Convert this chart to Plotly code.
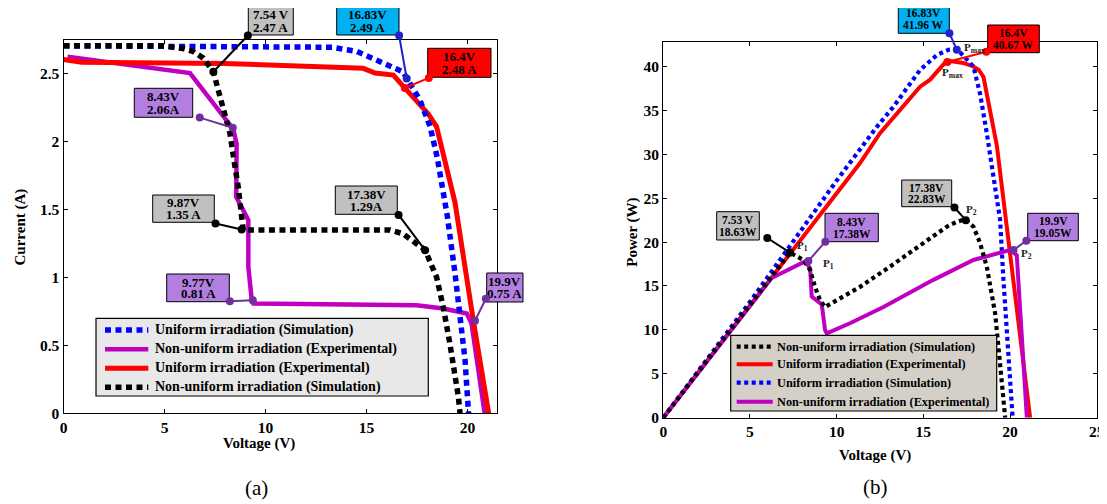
import plotly.graph_objects as go

# page body has an 8px margin; the figure is sized so that it fills the 1107x504 window
OX, OY = 8, 8
W, H = 1107 - OX, 504 - OY

# ---------------- (a) I-V curves ----------------
a_uni_sim_v = [0, 5, 10, 13.3, 14.5, 15.8, 16.8, 17.65, 18.15, 18.5, 18.7, 19.0, 19.38, 19.63, 19.88, 20.05]
a_uni_sim_i = [2.70, 2.70, 2.70, 2.69, 2.66, 2.58, 2.51, 2.30, 2.105, 1.88, 1.70, 1.45, 1.03, 0.735, 0.39, 0.0]

a_uni_exp_v = [0, 0.9, 8, 14.84, 15.42, 16.33, 16.9, 18.06, 18.47, 19.0, 19.38, 20.29, 21.05]
a_uni_exp_i = [2.60, 2.58, 2.57, 2.535, 2.50, 2.485, 2.39, 2.20, 2.105, 1.78, 1.55, 0.68, 0.0]

a_nu_sim_v = [0, 4.9, 5.93, 6.4, 6.92, 7.42, 7.66, 7.91, 8.24, 8.49, 8.65, 8.82, 8.9, 9.07, 16.16, 16.8,
              17.3, 17.9, 18.47, 18.8, 19.13, 19.38, 19.55, 19.63]
a_nu_sim_i = [2.70, 2.70, 2.68, 2.66, 2.61, 2.51, 2.375, 2.23, 2.057, 1.81, 1.664, 1.443, 1.346, 1.346, 1.346,
              1.32, 1.26, 1.20, 1.00, 0.78, 0.51, 0.29, 0.12, 0.0]

a_nu_exp_v = [0.2, 6.26, 8.40, 8.57, 8.55, 9.15, 9.15, 9.32, 9.40, 17.48, 18.8, 19.96, 20.2, 20.85]
a_nu_exp_i = [2.62, 2.50, 2.09, 1.98, 1.59, 1.42, 1.076, 0.83, 0.807, 0.794, 0.77, 0.733, 0.66, 0.0]

# ---------------- (b) P-V curves ----------------
b_uni_sim_v = [0, 5, 10, 12.31, 13.27, 14.81, 15.78, 16.45, 16.85, 17.12, 17.89, 18.27, 18.66, 19.04, 19.43,
               19.62, 19.85, 20.15]
b_uni_sim_p = [0, 13.2, 27.0, 33.1, 35.4, 39.6, 41.3, 41.9, 41.96, 41.6, 40.0, 36.9, 32.4, 27.4, 22.5,
               15.7, 8.1, 0]

b_uni_exp_v = [0, 6.3, 11.35, 12.5, 14.81, 15.39, 16.35, 17.3, 17.89, 18.2, 18.47, 19.24, 21.16]
b_uni_exp_p = [0, 16.2, 29.0, 32.4, 37.7, 38.5, 40.67, 40.4, 40.0, 39.6, 38.8, 31.0, 0]

b_nu_sim_v = [0, 7.31, 8.08, 8.47, 8.75, 9.04, 9.33, 9.62, 11.35, 13.07, 14.81, 16.35, 16.93, 17.41, 17.89,
              18.27, 18.66, 19.14, 19.33, 19.52, 19.72]
b_nu_sim_p = [0, 18.8, 17.96, 16.8, 14.9, 13.4, 12.6, 12.95, 14.9, 17.2, 19.67, 21.75, 22.3, 22.6, 21.75,
              19.9, 17.2, 11.9, 8.1, 4.3, 0]

b_nu_exp_v = [0, 6.25, 8.18, 8.47, 8.56, 9.14, 9.33, 9.43, 10.77, 12.7, 15.58, 17.89, 20.0, 20.39, 20.97]
b_nu_exp_p = [0, 15.9, 17.8, 17.0, 13.8, 12.9, 10.0, 9.6, 10.75, 12.6, 15.7, 17.96, 19.1, 18.5, 0]

# legend names
name_us = "Uniform irradiation (Simulation)"
name_ue = "Uniform irradiation (Experimental)"
name_ns = "Non-uniform irradiation (Simulation)"
name_ne = "Non-uniform irradiation (Experimental)"
a_legend_order = [name_us, name_ne, name_ue, name_ns]
b_legend_order = [name_ns, name_ue, name_us, name_ne]

# axis ticks
a_xticks = [0, 5, 10, 15, 20]
a_yticks = [0, 0.5, 1, 1.5, 2, 2.5]
b_xticks = [0, 5, 10, 15, 20, 25]
b_yticks = [0, 5, 10, 15, 20, 25, 30, 35, 40]

# ---------------- data tips ----------------
a_tip_line1 = ["7.54 V", "16.83V", "16.4V", "8.43V", "9.87V", "17.38V", "9.77V", "19.9V"]
a_tip_line2 = ["2.47 A", "2.49 A", "2.48 A", "2.06A", "1.35 A", "1.29A", "0.81 A", "0.75 A"]
a_tip_head_v = [7.42, 16.99, 16.90, 8.38, 8.82, 17.90, 9.37, 20.37]
a_tip_head_i = [2.51, 2.46, 2.39, 2.098, 1.351, 1.199, 0.831, 0.68]
a_tip_tail_v = [9.15, 16.61, 18.11, 6.72, 7.50, 16.57, 8.21, 20.92]
a_tip_tail_i = [2.78, 2.78, 2.466, 2.174, 1.395, 1.461, 0.824, 0.845]

b_tip_line1 = ["7.53 V", "8.43V", "17.38V", "19.9V", "16.83V", "16.4V"]
b_tip_line2 = ["18.63W", "17.38W", "22.83W", "19.05W", "41.96 W", "40.67 W"]
b_tip_head_v = [7.31, 8.37, 17.45, 20.20, 16.93, 16.39]
b_tip_head_p = [18.8, 17.85, 22.5, 19.1, 41.9, 40.5]
b_tip_tail_v = [5.97, 9.37, 16.77, 20.97, 16.49, 18.66]
b_tip_tail_p = [20.5, 20.1, 24.0, 20.2, 43.85, 41.7]

# point labels in (b)
b_plabel_text = ["P<sub>1</sub>", "P<sub>1</sub>", "P<sub>2</sub>", "P<sub>2</sub>", "P<sub>max</sub>", "P<sub>max</sub>"]
b_plabel_v = [8.05, 9.55, 17.75, 20.95, 17.95, 16.7]
b_plabel_p = [19.6, 17.5, 23.7, 18.7, 42.05, 39.3]

# ---------------- styling ----------------
BLUE = "#0000ff"
RED = "#ff0000"
MAG = "#c000c0"
BLACK = "#000000"
PURPLE_BOX = "#b27fe0"
PURPLE_LINE = "#7030a0"
GRAY_BOX = "#c0c0c0"
CYAN_BOX = "#00b0f0"
FONT = "Liberation Serif"

a_style = {name_ne: dict(color=MAG, width=4.5),
           name_ue: dict(color=RED, width=5),
           name_us: dict(color=BLUE, width=5.5, dash="6px,4.5px"),
           name_ns: dict(color=BLACK, width=5.5, dash="6px,4.5px")}
b_style = {name_ue: dict(color=RED, width=4),
           name_us: dict(color=BLUE, width=4.2, dash="4px,3.5px"),
           name_ne: dict(color=MAG, width=4),
           name_ns: dict(color=BLACK, width=4.2, dash="4px,3.5px")}


def pxx(x):
    return (x - OX) / W


def pyy(y):
    return 1 - (y - OY) / H


fig = go.Figure()

# (a) traces (drawing order)
for nm, xs, ys in ((name_ne, a_nu_exp_v, a_nu_exp_i), (name_ue, a_uni_exp_v, a_uni_exp_i),
                   (name_us, a_uni_sim_v, a_uni_sim_i), (name_ns, a_nu_sim_v, a_nu_sim_i)):
    fig.add_trace(go.Scatter(x=xs, y=ys, mode="lines", name=nm, showlegend=False,
                             line=a_style[nm], xaxis="x", yaxis="y"))

# (b) traces
for nm, xs, ys in ((name_ue, b_uni_exp_v, b_uni_exp_p), (name_us, b_uni_sim_v, b_uni_sim_p),
                   (name_ne, b_nu_exp_v, b_nu_exp_p), (name_ns, b_nu_sim_v, b_nu_sim_p)):
    fig.add_trace(go.Scatter(x=xs, y=ys, mode="lines", name=nm, showlegend=False,
                             line=b_style[nm], xaxis="x2", yaxis="y2"))

axis_common = dict(showline=True, linecolor="black", linewidth=1.3, mirror="ticks", ticks="inside",
                   ticklen=4, tickwidth=1, tickcolor="black", showgrid=False, zeroline=False,
                   automargin=False,
                   tickfont=dict(family=FONT, size=15.5, color="black", weight="bold"))

fig.update_layout(
    width=W, height=H, margin=dict(l=0, r=0, t=0, b=0, autoexpand=False),
    paper_bgcolor="white", plot_bgcolor="white", showlegend=False,
    font=dict(family=FONT, size=15, color="black"),
    xaxis=dict(domain=[pxx(63.5), pxx(497)], range=[0, 21.46], tickvals=a_xticks, anchor="y", **axis_common),
    yaxis=dict(domain=[pyy(413.3), pyy(40)], range=[0, 2.743], tickvals=a_yticks, anchor="x", **axis_common),
    xaxis2=dict(domain=[pxx(663.3), pxx(1096.7)], range=[0, 25], tickvals=b_xticks, anchor="y2", **axis_common),
    yaxis2=dict(domain=[pyy(417.7), pyy(41.7)], range=[0, 42.82], tickvals=b_yticks, anchor="x2", **axis_common),
)

annotations = []
shapes = []


# ---------------- legends (drawn as boxes, sample lines and text) ----------------
def add_legend(names, styles, box, rows, sym_x0, sym_x1, text_x, fill, fsize):
    x0, y0, x1, y1 = box
    shapes.append(dict(type="rect", xref="paper", yref="paper", x0=pxx(x0), x1=pxx(x1),
                       y0=pyy(y1), y1=pyy(y0), fillcolor=fill, line=dict(color="black", width=1.2),
                       layer="above"))
    for nm, ry in zip(names, rows):
        st = styles[nm]
        shapes.append(dict(type="line", xref="paper", yref="paper", x0=pxx(sym_x0), x1=pxx(sym_x1),
                           y0=pyy(ry), y1=pyy(ry), layer="above",
                           line=dict(color=st["color"], width=st["width"], dash=st.get("dash", "solid"))))
        annotations.append(dict(xref="paper", yref="paper", x=pxx(text_x), y=pyy(ry), text="<b>%s</b>" % nm,
                                showarrow=False, xanchor="left", yanchor="middle",
                                font=dict(family=FONT, size=fsize, color="black")))


add_legend(a_legend_order, a_style, (96, 318.3, 428.3, 396), [330, 349.3, 368.3, 387.3],
           105, 148.3, 152.5, "#e8e8e8", 14)
add_legend(b_legend_order, b_style, (730.7, 335.3, 996.7, 411), [346.7, 364.3, 382.7, 401.7],
           736.7, 772.7, 774.5, "#d4d0c8", 12.3)

# ---------------- data tips ----------------
a_box = [(248.3, 6.7, 293.3, 35.0, GRAY_BOX, BLACK),
         (336.7, 6.7, 399.0, 35.0, CYAN_BOX, "#2222cc"),
         (427.7, 48.3, 491.0, 77.3, RED, RED),
         (134.3, 88.3, 192.7, 117.3, PURPLE_BOX, PURPLE_LINE),
         (152.7, 195.0, 214.3, 222.3, GRAY_BOX, BLACK),
         (335.3, 186.0, 397.3, 214.3, GRAY_BOX, BLACK),
         (166.7, 274.0, 229.3, 301.7, PURPLE_BOX, PURPLE_LINE),
         (486.7, 273.0, 523.0, 302.0, PURPLE_BOX, PURPLE_LINE)]
b_box = [(716.7, 211.7, 759.3, 240.0, GRAY_BOX, BLACK),
         (825.0, 213.3, 878.3, 241.7, PURPLE_BOX, PURPLE_LINE),
         (901.7, 180.0, 951.7, 206.7, GRAY_BOX, BLACK),
         (1027.7, 213.3, 1078.3, 240.7, PURPLE_BOX, PURPLE_LINE),
         (898.3, 5.0, 949.3, 33.3, CYAN_BOX, "#2222cc"),
         (987.7, 25.0, 1039.3, 52.7, RED, RED)]


def add_tips(boxes, l1, l2, hv, hy, tv, ty, xr, yr, fsize):
    for k, (x0, y0, x1, y1, fill, lc) in enumerate(boxes):
        shapes.append(dict(type="rect", xref="paper", yref="paper", x0=pxx(x0), x1=pxx(x1),
                           y0=pyy(y1), y1=pyy(y0), fillcolor=fill, line=dict(color="black", width=1),
                           layer="above"))
        h = y1 - y0
        cx = (x0 + x1) / 2
        for txt, frac in ((l1[k], 0.29), (l2[k], 0.72)):
            annotations.append(dict(xref="paper", yref="paper", x=pxx(cx), y=pyy(y0 + h * frac),
                                    text="<b>%s</b>" % txt, showarrow=False, xanchor="center",
                                    yanchor="middle", font=dict(family=FONT, size=fsize, color="black")))
        annotations.append(dict(xref=xr, yref=yr, x=hv[k], y=hy[k], axref=xr, ayref=yr,
                                ax=tv[k], ay=ty[k], text="", showarrow=True, arrowhead=6,
                                startarrowhead=6, arrowside="end+start", arrowsize=1, startarrowsize=1,
                                arrowwidth=2, arrowcolor=lc, standoff=0, startstandoff=0, borderpad=0))


add_tips(a_box, a_tip_line1, a_tip_line2, a_tip_head_v, a_tip_head_i, a_tip_tail_v, a_tip_tail_i, "x", "y", 13)
add_tips(b_box, b_tip_line1, b_tip_line2, b_tip_head_v, b_tip_head_p, b_tip_tail_v, b_tip_tail_p, "x2", "y2", 11.5)

for t, v, p in zip(b_plabel_text, b_plabel_v, b_plabel_p):
    annotations.append(dict(xref="x2", yref="y2", x=v, y=p, text="<b>%s</b>" % t, showarrow=False,
                            xanchor="center", yanchor="middle",
                            font=dict(family=FONT, size=11, color="#202020")))


def ptext(txt, x, y, size, bold=True, angle=0):
    annotations.append(dict(xref="paper", yref="paper", x=pxx(x), y=pyy(y),
                            text=("<b>%s</b>" % txt) if bold else txt, showarrow=False,
                            xanchor="center", yanchor="middle", textangle=angle,
                            font=dict(family=FONT, size=size, color="black")))


ptext("Voltage (V)", 259, 443.3, 15)
ptext("Current (A)", 20, 227.5, 15, angle=-90)
ptext("Voltage (V)", 875, 455, 15)
ptext("Power (W)", 631.7, 232, 15, angle=-90)
ptext("(a)", 256, 487.5, 21, bold=False)
ptext("(b)", 875, 486.7, 21, bold=False)

fig.update_layout(annotations=annotations, shapes=shapes)

fig.write_html("out.html")
